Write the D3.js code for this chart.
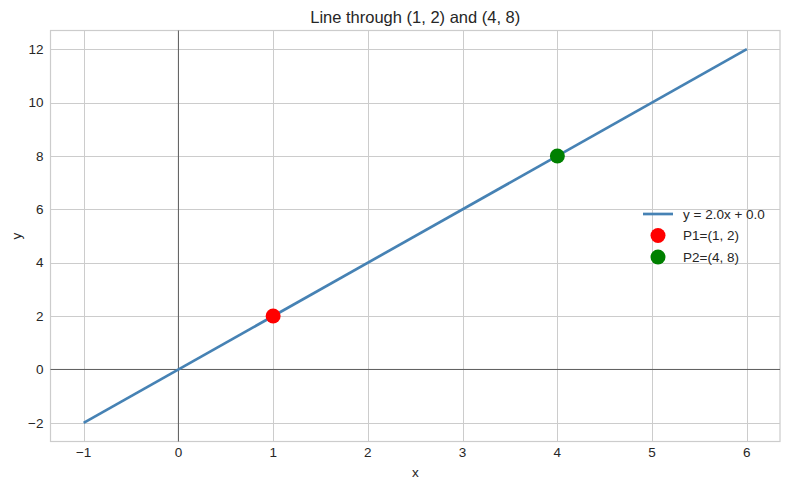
<!DOCTYPE html>
<html>
<head>
<meta charset="utf-8">
<script src="https://cdn.jsdelivr.net/npm/d3@7"></script>
<style>
  body { margin: 0; background: #fff; }
  text { font-family: "Liberation Sans", Arial, sans-serif; fill: #262626; }
</style>
</head>
<body>
<div id="chart"></div>
<script>
// data
var lineX = [-1, 6],
    lineY = [-2, 12];
var points = [
    { name: "P1=(1, 2)", x: 1, y: 2, color: "red" },
    { name: "P2=(4, 8)", x: 4, y: 8, color: "green" }
];
var xTicks = [-1, 0, 1, 2, 3, 4, 5, 6],
    yTicks = [-2, 0, 2, 4, 6, 8, 10, 12];
var lineLabel = "y = 2.0x + 0.0";

var width = 790, height = 490,
    margin = { top: 30.5, right: 10, bottom: 48.5, left: 50.5 };

var svg = d3.select("#chart").append("svg")
    .attr("width", width).attr("height", height);

var x = d3.scaleLinear().domain([-1.35, 6.35]).range([margin.left, width - margin.right]);
var y = d3.scaleLinear().domain([-2.7, 12.7]).range([height - margin.bottom, margin.top]);

var minus = function(v) { return String(v).replace("-", "\u2212"); };

// grid
var g = svg.append("g");
g.selectAll(".gx").data(xTicks).enter().append("line")
    .attr("x1", d => Math.round(x(d)) + 0.5).attr("x2", d => Math.round(x(d)) + 0.5)
    .attr("y1", y.range()[0]).attr("y2", y.range()[1])
    .attr("stroke", "#cccccc").attr("stroke-width", 1);
g.selectAll(".gy").data(yTicks).enter().append("line")
    .attr("y1", d => Math.round(y(d)) + 0.5).attr("y2", d => Math.round(y(d)) + 0.5)
    .attr("x1", x.range()[0]).attr("x2", x.range()[1])
    .attr("stroke", "#cccccc").attr("stroke-width", 1);

// frame
svg.append("rect")
    .attr("x", x.range()[0]).attr("y", y.range()[1])
    .attr("width", x.range()[1] - x.range()[0])
    .attr("height", y.range()[0] - y.range()[1])
    .attr("fill", "none").attr("stroke", "#cccccc").attr("stroke-width", 1.2);

// zero axes
svg.append("line")
    .attr("x1", x.range()[0]).attr("x2", x.range()[1])
    .attr("y1", y(0)).attr("y2", y(0))
    .attr("stroke", "#000").attr("stroke-opacity", 0.7).attr("stroke-width", 0.8);
svg.append("line")
    .attr("x1", x(0)).attr("x2", x(0))
    .attr("y1", y.range()[0]).attr("y2", y.range()[1])
    .attr("stroke", "#000").attr("stroke-opacity", 0.7).attr("stroke-width", 0.8);

// tick labels
svg.append("g").selectAll("text").data(xTicks).enter().append("text")
    .attr("x", d => x(d)).attr("y", y.range()[0] + 15)
    .attr("text-anchor", "middle").attr("font-size", 13.5)
    .text(minus);
svg.append("g").selectAll("text").data(yTicks).enter().append("text")
    .attr("x", x.range()[0] - 7).attr("y", d => y(d)).attr("dy", "0.35em")
    .attr("text-anchor", "end").attr("font-size", 13.5)
    .text(minus);

// the line
svg.append("path")
    .datum(d3.zip(lineX, lineY))
    .attr("d", d3.line().x(d => x(d[0])).y(d => y(d[1])))
    .attr("fill", "none").attr("stroke", "steelblue").attr("stroke-width", 2.7);

// points
svg.append("g").selectAll("circle").data(points).enter().append("circle")
    .attr("cx", d => x(d.x)).attr("cy", d => y(d.y))
    .attr("r", 7.5).attr("fill", d => d.color);

// title & labels
svg.append("text")
    .attr("x", (x.range()[0] + x.range()[1]) / 2).attr("y", 23)
    .attr("text-anchor", "middle").attr("font-size", 16.5)
    .text("Line through (1, 2) and (4, 8)");
svg.append("text")
    .attr("x", (x.range()[0] + x.range()[1]) / 2).attr("y", 477)
    .attr("text-anchor", "middle").attr("font-size", 13.5)
    .text("x");
svg.append("text")
    .attr("transform", "translate(21," + (y.range()[0] + y.range()[1]) / 2 + ") rotate(-90)")
    .attr("text-anchor", "middle").attr("font-size", 13.5)
    .text("y");

// legend
var legend = svg.append("g").attr("transform", "translate(643," + 214 + ")");
legend.append("line")
    .attr("x1", 0).attr("x2", 30).attr("y1", 0).attr("y2", 0)
    .attr("stroke", "steelblue").attr("stroke-width", 2.7);
legend.append("text").attr("x", 40).attr("y", 0).attr("dy", "0.35em")
    .attr("font-size", 13.5).text(lineLabel);
var items = legend.selectAll(".item").data(points).enter().append("g")
    .attr("transform", (d, i) => "translate(0," + (i + 1) * 21.5 + ")");
items.append("circle").attr("cx", 15).attr("cy", 0).attr("r", 7.5)
    .attr("fill", d => d.color);
items.append("text").attr("x", 40).attr("y", 0).attr("dy", "0.35em")
    .attr("font-size", 13.5).text(d => d.name);
</script>
</body>
</html>
